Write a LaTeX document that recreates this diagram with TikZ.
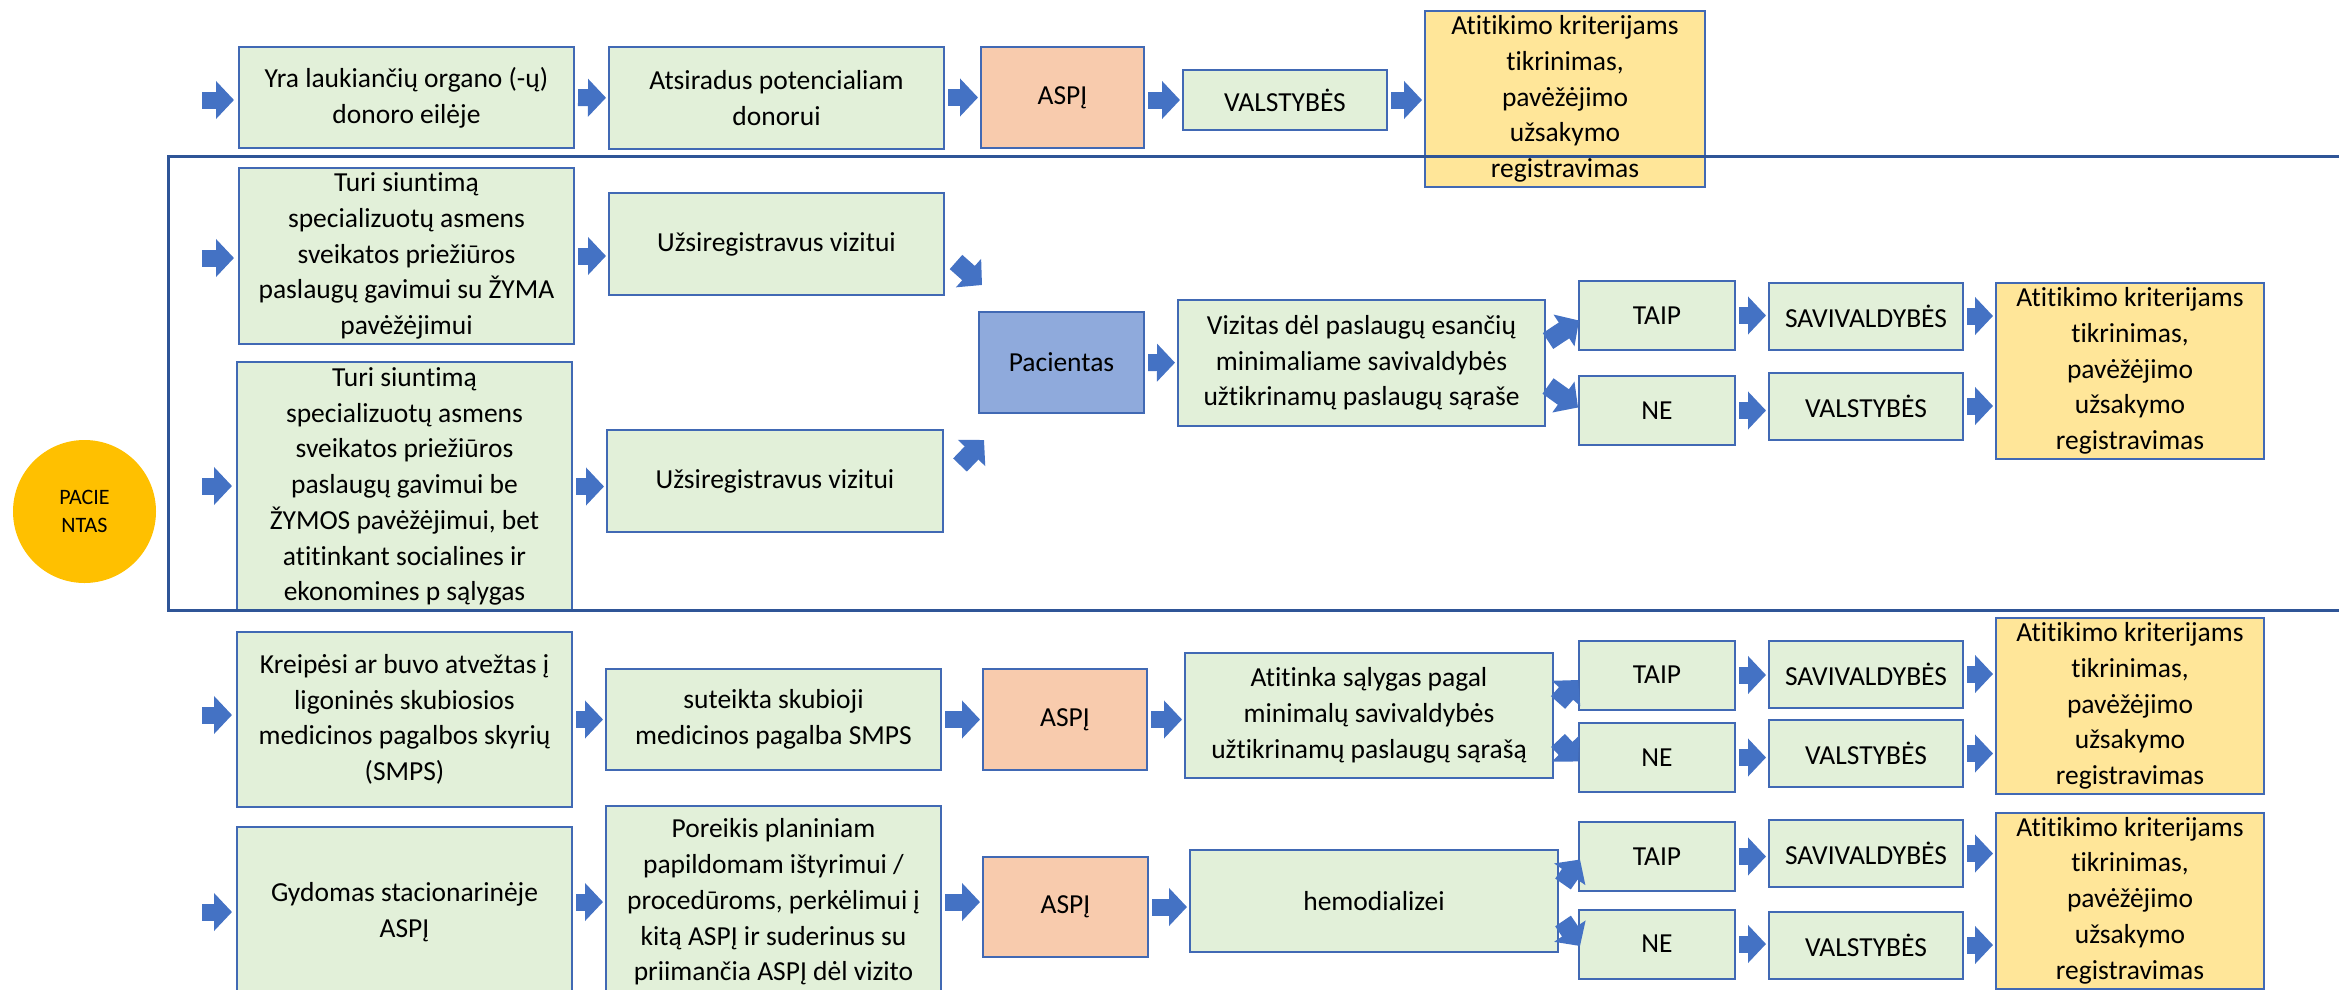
\documentclass[tikz,border=0pt]{standalone}
\usepackage{fontspec}
\setmainfont{Carlito}[Ligatures=NoCommon]
\usetikzlibrary{arrows.meta,calc}

\definecolor{boxgreen}{HTML}{E2F0D9}
\definecolor{aspjfill}{HTML}{F8CBAD}
\definecolor{yelfill}{HTML}{FFE699}
\definecolor{pacfill}{HTML}{8FAADC}
\definecolor{circfill}{HTML}{FFC000}
\definecolor{boxline}{HTML}{4169B4}
\definecolor{arrowblue}{HTML}{4472C4}
\definecolor{framecol}{HTML}{2F5597}

\begin{document}
\begin{tikzpicture}[x=1pt, y=-1pt,
		box/.style={draw=boxline, line width=2pt, fill=boxgreen, inner sep=0pt, align=center, font=\fontsize{27.5}{35.7}\selectfont},
		aspj/.style={box, fill=aspjfill},
		yel/.style={box, fill=yelfill},
		wh/.style 2 args={minimum width=#1pt, minimum height=#2pt},
		flow/.style={draw=arrowblue, line width=17pt, -{Triangle[width=37pt,length=18pt]}, shorten <=3pt, shorten >=2pt},
		diag/.style={flow, line width=19pt, shorten <=0pt, shorten >=0pt},
		frame/.style={draw=framecol, line width=3pt}]
	\useasboundingbox (0,0) rectangle (2339,990);
	% Start
	\node[circle, fill=circfill, minimum size=143pt, inner sep=0pt, align=center, font=\fontsize{22}{28}\selectfont] (pat) at (84.5,511.5) {PACIE\\NTAS};
	% Row A
	\node[box, wh={335}{101}] (a1) at (406.5,97.5) {Yra laukiančių organo (-ų)\\donoro eilėje};
	\node[box, wh={335}{102}] (a2) at (776.5,98) {Atsiradus potencialiam\\donorui};
	\node[aspj, wh={163}{101}] (a3) at (1062.5,97.5) {ASPĮ};
	\node[box, wh={204}{60}] (a4) at (1285,100) {VALSTYBĖS};
	\node[yel, wh={280}{176}] (a5) at (1565,99) {Atitikimo kriterijams\\tikrinimas,\\pavėžėjimo\\užsakymo\\registravimas};
	% Row B
	\node[box, wh={335}{176}] (b1) at (406.5,256) {Turi siuntimą\\specializuotų asmens\\sveikatos priežiūros\\paslaugų gavimui su ŽYMA\\pavėžėjimui};
	\node[box, wh={335}{102}] (b2) at (776.5,244) {Užsiregistravus vizitui};
	\node[box, wh={335}{249}] (b3) at (404.5,486.5) {Turi siuntimą\\specializuotų asmens\\sveikatos priežiūros\\paslaugų gavimui be\\ŽYMOS pavėžėjimui, bet\\atitinkant socialines ir\\ekonomines p sąlygas};
	\node[box, wh={336}{102}] (b4) at (775,481) {Užsiregistravus vizitui};
	\node[box, fill=pacfill, wh={165}{101}] (pac) at (1061.5,362.5) {Pacientas};
	\node[box, wh={367}{126}] (vizb) at (1361.5,363) {Vizitas dėl paslaugų esančių\\minimaliame savivaldybės\\užtikrinamų paslaugų sąraše};
	% Row C
	\node[box, wh={335}{175}] (c1) at (404.5,719.5) {Kreipėsi ar buvo atvežtas į\\ligoninės skubiosios\\medicinos pagalbos skyrių\\(SMPS)};
	\node[box, wh={335}{101}] (c2) at (773.5,719.5) {suteikta skubioji\\medicinos pagalba SMPS};
	\node[aspj, wh={164}{101}] (c3) at (1065,719.5) {ASPĮ};
	\node[box, wh={368}{125}] (vizc) at (1369,715.5) {Atitinka sąlygas pagal\\minimalų savivaldybės\\užtikrinamų paslaugų sąrašą};
	% Row D
	\node[box, wh={335}{170}] (d1) at (404.5,912) {Gydomas stacionarinėje\\ASPĮ};
	\node[box, wh={335}{192}] (d2) at (773.5,902) {Poreikis planiniam\\papildomam ištyrimui /\\procedūroms, perkėlimui į\\kitą ASPĮ ir suderinus su\\priimančia ASPĮ dėl vizito};
	\node[aspj, wh={165}{100}] (d3) at (1065.5,907) {ASPĮ};
	\node[box, wh={368}{102}] (vizd) at (1374,901) {hemodializei};
	% TAIP / NE branches
	\foreach \row/\yt/\yn/\ys/\yv/\yy in {b/315.5/410.5/316/406/371, c/675/757.5/674/753.5/706, d/856.5/944/853.5/945/900.5} {
		\node[box, wh={156}{69}] (taip\row) at (1657,\yt) {TAIP};
		\node[box, wh={156}{69}] (ne\row) at (1657,\yn) {NE};
		\node[box, wh={194}{67}] (sav\row) at (1866,\ys) {SAVIVALDYBĖS};
		\node[box, wh={194}{67}] (val\row) at (1866,\yv) {VALSTYBĖS};
		\node[yel, wh={268}{176}] (yel\row) at (2130,\yy) {Atitikimo kriterijams\\tikrinimas,\\pavėžėjimo\\užsakymo\\registravimas};
		\draw[flow] (taip\row.east) -- (taip\row.east -| sav\row.west);
		\draw[flow] (ne\row.east) -- (ne\row.east -| val\row.west);
		\draw[flow] (sav\row.east) -- (sav\row.east -| yel\row.west);
		\draw[flow] (val\row.east) -- (val\row.east -| yel\row.west);
	}
	% Entry arrows
	\foreach \n/\y in {a1/100, b1/258, b3/486, c1/715, d1/912} {
		\coordinate (in\n) at (202,\y);
		\draw[flow, shorten <=0pt, shorten >=4pt] (in\n) -- (in\n -| \n.west);
	}
	% Arrows
	\draw[flow] (a1) -- (a2);
	\draw[flow] (a2.east |- a3) -- (a3);
	\draw[flow] (a3.east |- a4) -- (a4);
	\draw[flow] (a4) -- (a4 -| a5.west);
	\draw[flow] (b1.east) -- (b1.east -| b2.west);
	\draw[flow] (b3.east) -- (b3.east -| b4.west);
	\draw[flow] (pac) -- (vizb);
	\draw[flow] (c1.east) -- (c1.east -| c2.west);
	\draw[flow] (c2) -- (c3);
	\draw[flow] (c3.east) -- (c3.east -| vizc.west);
	\draw[flow] (d1.east |- d2.west) -- (d2.west);
	\draw[flow] (d2) -- (d2 -| d3.west);
	\draw[flow] (d3.east) -- (d3.east -| vizd.west);
	% Diagonals
	\draw[diag] ($(b2.east)+(11,18)$) -- ($(pac.north west)+(4,-26)$);
	\draw[diag] ($(b4.east)+(16,-16)$) -- ($(pac.south west)+(6,26)$);
	\draw[diag] ($(vizb.east)+(2,-22)$) -- ($(taipb.west)+(1,5)$);
	\draw[diag] ($(vizb.east)+(2,23)$) -- ($(neb.west)+(0,-3)$);
	\draw[diag] ($(vizc.east)+(4,-13)$) -- ($(taipc.west)+(0,5)$);
	\draw[diag] ($(vizc.east)+(4,25)$) -- ($(nec.west)+(0,4)$);
	\draw[diag] ($(vizd.east)+(4,-17)$) -- ($(taipd.west)+(2,3)$);
	\draw[diag] ($(vizd.east)+(4,20)$) -- ($(ned.west)+(2,2)$);
	% Frame
	\draw[frame] (168,156) rectangle (2400,610);
\end{tikzpicture}
\end{document}
